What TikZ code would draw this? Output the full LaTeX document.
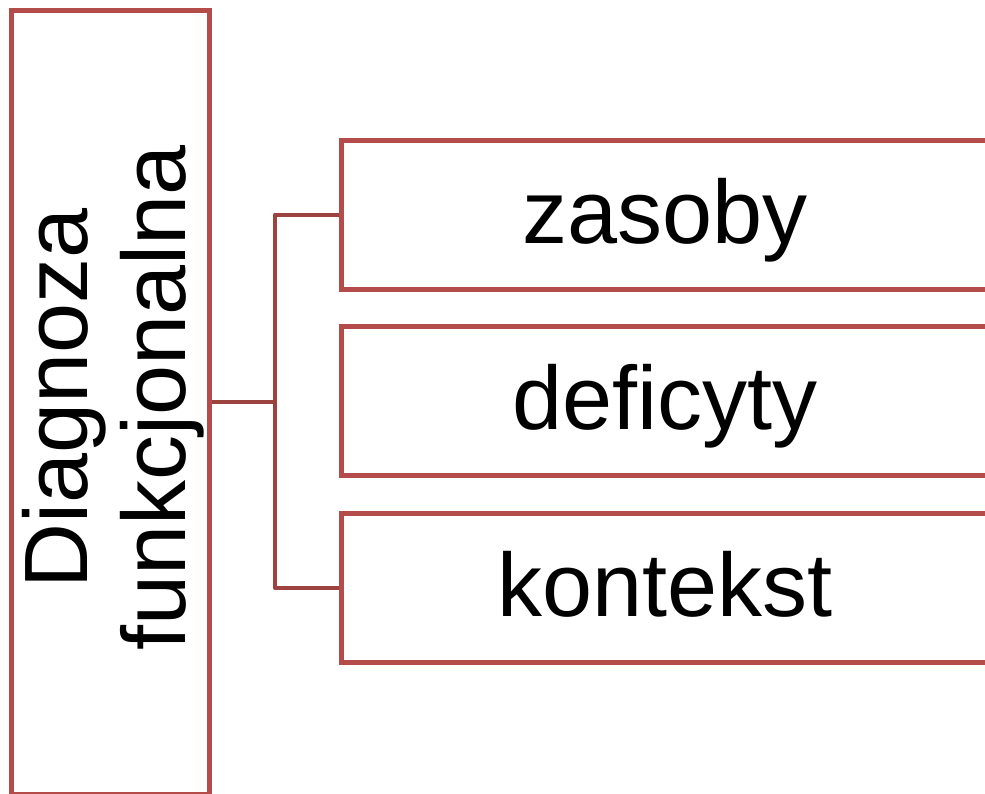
\documentclass[tikz,border=0pt]{standalone}
\usepackage{fontspec}
\setmainfont{Liberation Sans}
\definecolor{boxred}{HTML}{B44C4A}
\definecolor{linkred}{HTML}{9C423F}
\begin{document}
\begin{tikzpicture}[x=1pt,y=-1pt,
  box/.style={draw=boxred, line width=5pt, fill=white, inner sep=0pt,
    font=\fontsize{90}{98}\selectfont, text=black},
  branch/.style={box, minimum width=648pt, minimum height=149pt,
    text height=66pt, text depth=9pt},
  link/.style={draw=linkred, line width=4pt}]
\clip (0,0) rectangle (985,793);
\useasboundingbox (0,0) rectangle (985,793);
% root box, text set vertically
\node[box, rotate=90, minimum width=784pt, minimum height=198pt, align=center]
  (root) at (110,402) {};
\node[rotate=90, align=center, inner sep=0pt, font=\fontsize{90}{98}\selectfont]
  (rootlabel) at (113,398) {Diagnoza\\funkcjonalna};
% branch boxes
\node[branch] (b1) at (665,214.5) {zasoby};
\node[branch] (b2) at (665,401) {deficyty};
\node[branch] (b3) at (665,588) {kontekst};
% connectors
\coordinate (jt) at (275,214.5);
\coordinate (jb) at (275,588);
\draw[link] (root.south) -- (root.south -| jt);
\draw[link, line join=round] (b1.west) -- (jt) -- (jb) -- (b3.west);
\end{tikzpicture}
\end{document}
